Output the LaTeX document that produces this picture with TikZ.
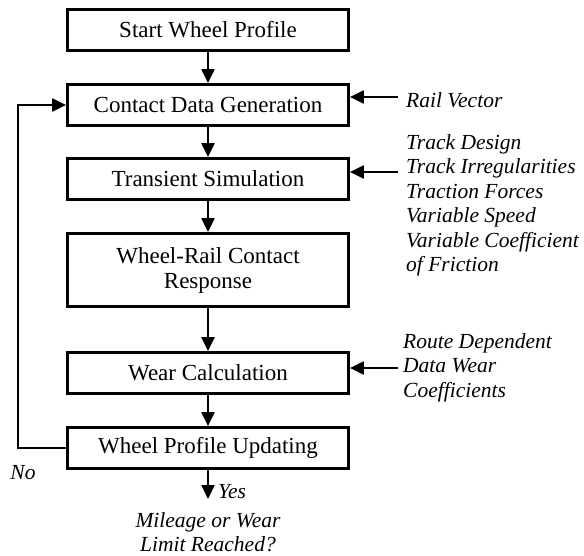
\documentclass[tikz,border=0pt]{standalone}
\usepackage{fontspec}
\setmainfont{Liberation Serif}
\usetikzlibrary{arrows.meta}

\begin{document}
\begin{tikzpicture}[x=1pt,y=-1pt]
	\tikzstyle{every node}+=[inner sep=0pt]
	\tikzstyle{stage}=[draw=black, line width=2.8pt, minimum width=281pt, minimum height=41pt, align=center, font=\fontsize{23}{25}\selectfont]
	\tikzstyle{feed}=[-{Triangle[length=14pt,width=13pt]}, line width=2.2pt]
	\tikzstyle{note}=[align=left, font=\fontsize{21.5}{24.5}\selectfont\itshape]
	\useasboundingbox (0,0) rectangle (584,555);
	\node [stage] (start) at (208,30) {Start Wheel Profile};
	\node [stage] (contact) at (208,105) {Contact Data Generation};
	\node [stage] (transient) at (208,179) {Transient Simulation};
	\node [stage, minimum height=73pt] (response) at (208,270) {Wheel-Rail Contact\\Response};
	\node [stage] (wear) at (208,373) {Wear Calculation};
	\node [stage] (update) at (208,448) {Wheel Profile Updating};
	\draw [feed] (start) -- (contact);
	\draw [feed] (contact) -- (transient);
	\draw [feed] (transient) -- (response);
	\draw [feed] (response) -- (wear);
	\draw [feed] (wear) -- (update);
	% inputs on the right
	\coordinate (railin) at (398,97);
	\draw [feed] (railin) -- (railin -| contact.east);
	\node [note, anchor=base west] (rail) at (406,107) {Rail Vector};
	\coordinate (trackin) at (398,172);
	\draw [feed] (trackin) -- (trackin -| transient.east);
	\node [note, anchor=north west] (track) at (406,134) {Track Design\\Track Irregularities\\Traction Forces\\Variable Speed\\Variable Coefficient\\of Friction};
	\coordinate (routein) at (398,368);
	\draw [feed] (routein) -- (routein -| wear.east);
	\node [note, anchor=north west] (route) at (403,333) {Route Dependent\\Data Wear\\Coefficients};
	% loop back and exit
	\coordinate (loop) at (18,448);
	\draw [feed] (update.west) -- (loop) |- (contact.west);
	\node [note] (no) at (23,473) {No};
	\coordinate (exit) at (208,499);
	\draw [feed] (update) -- (exit);
	\node [note, anchor=base west] (yes) at (218,498) {Yes};
	\node [note, align=center, anchor=north] (limit) at (208,512) {Mileage or Wear\\Limit Reached?};
\end{tikzpicture}
\end{document}
